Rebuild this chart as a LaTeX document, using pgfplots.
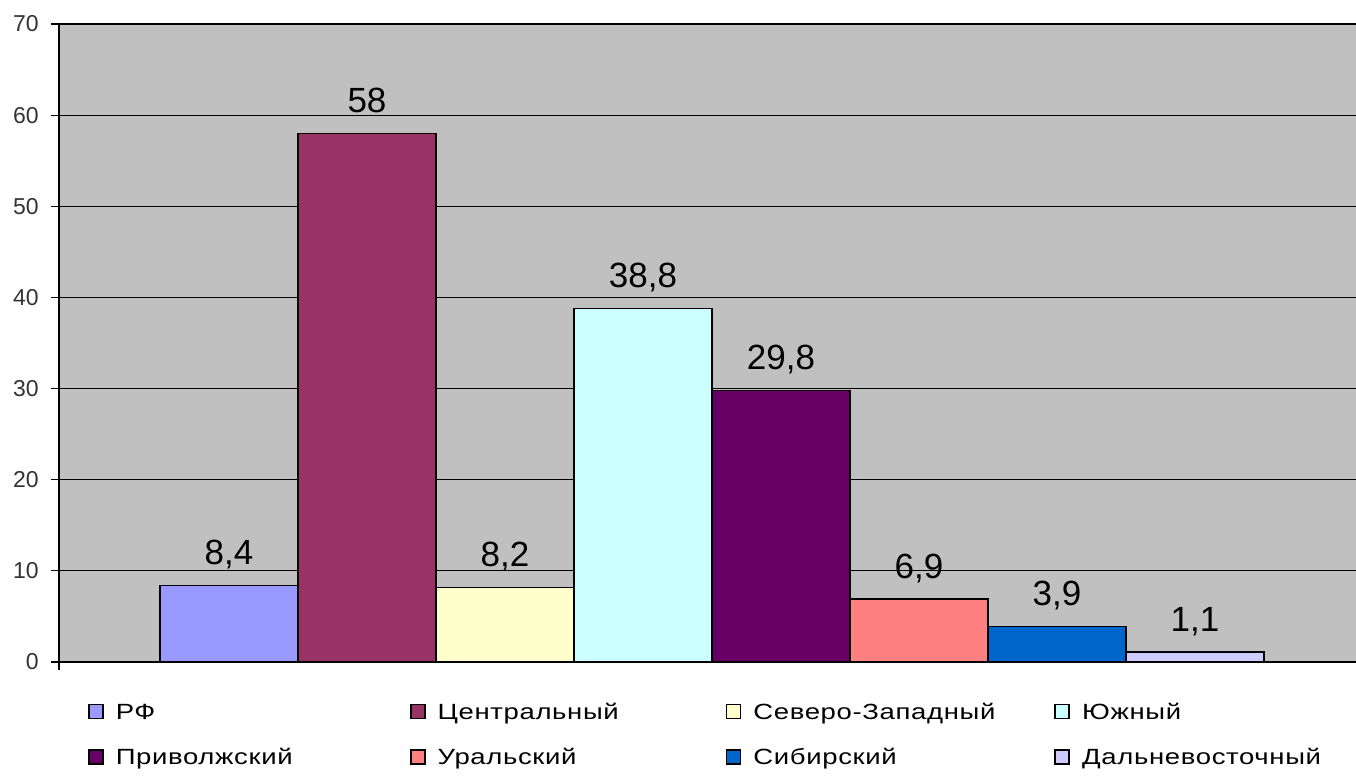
\documentclass[border=0pt]{standalone}
\usepackage{pgfplots}
\pgfplotsset{compat=1.18}
\usepackage{fontspec}
\setmainfont{Liberation Sans}
\newfontfamily\legfont[FakeStretch=1.25,LetterSpace=3]{Liberation Sans}
\definecolor{bggray}{HTML}{C0C0C0}
\definecolor{c1}{HTML}{9999FF}
\definecolor{c2}{HTML}{993366}
\definecolor{c3}{HTML}{FFFFCC}
\definecolor{c4}{HTML}{CCFFFF}
\definecolor{c5}{HTML}{660066}
\definecolor{c6}{HTML}{FF8080}
\definecolor{c7}{HTML}{0066CC}
\definecolor{c8}{HTML}{CCCCFF}
\newcommand{\la}[1]{\makebox[141pt][l]{#1}}
\newcommand{\lb}[1]{\makebox[138pt][l]{#1}}
\newcommand{\lc}[1]{\makebox[144.5pt][l]{#1}}
\begin{document}
\begin{tikzpicture}
\useasboundingbox (-29.5pt,-57pt) rectangle (648.5pt,331pt);
\begin{axis}[
  scale only axis, width=648.5pt, height=319pt,
  anchor=south west, at={(0pt,0pt)},
  xmin=-1.2319, xmax=8.1667, ymin=0, ymax=70,
  ytick={0,10,...,70},
  xtick={-1.2319}, xticklabels={},
  axis x line*=bottom, axis y line*=left,
  ymajorgrids, grid style={black, line width=0.6pt},
  axis background/.style={fill=bggray},
  tick align=outside, major tick length=4pt,
  tick style={black, line width=0.6pt},
  x axis line style={line width=1pt},
  y axis line style={line width=0.6pt},
  yticklabel style={font=\fontsize{11.5}{12}\selectfont, text=black!80, inner sep=0pt, xshift=-6pt},
  /pgf/number format/use comma,
  /pgf/number format/assume math mode=true,
  nodes near coords,
  every node near coord/.append style={font=\fontsize{17.5}{19}\selectfont, anchor=south, inner sep=0pt, text depth=0pt, yshift=10pt},
  clip=false,
  legend columns=4,
  legend cell align=left,
  legend style={at={(0,0)}, anchor=north west, xshift=14.5pt, yshift=-20.8pt,
    draw=none, fill=none, inner sep=0pt, outer sep=0pt,
    column sep=6pt, row sep=12.8pt,
    font=\legfont\fontsize{11}{12}\selectfont,
    nodes={text height=7.8pt, text depth=2pt, inner sep=0pt}},
  legend image code/.code={\draw[#1, draw=black, line width=0.9pt] (0pt,-2.4pt) rectangle (7pt,4.6pt);},
]
\addplot[ybar, bar width=1, fill=c1, draw=black, line width=0.7pt] coordinates {(0,8.4)};
\addplot[ybar, bar width=1, fill=c2, draw=black, line width=0.7pt] coordinates {(1,58)};
\addplot[ybar, bar width=1, fill=c3, draw=black, line width=0.7pt] coordinates {(2,8.2)};
\addplot[ybar, bar width=1, fill=c4, draw=black, line width=0.7pt] coordinates {(3,38.8)};
\addplot[ybar, bar width=1, fill=c5, draw=black, line width=0.7pt] coordinates {(4,29.8)};
\addplot[ybar, bar width=1, fill=c6, draw=black, line width=0.7pt] coordinates {(5,6.9)};
\addplot[ybar, bar width=1, fill=c7, draw=black, line width=0.7pt] coordinates {(6,3.9)};
\addplot[ybar, bar width=1, fill=c8, draw=black, line width=0.7pt] coordinates {(7,1.1)};
\legend{\la{РФ}, \lb{Центральный}, \lc{Северо-Западный}, Южный, \la{Приволжский}, \lb{Уральский}, \lc{Сибирский}, Дальневосточный}
\end{axis}
\end{tikzpicture}
\end{document}
